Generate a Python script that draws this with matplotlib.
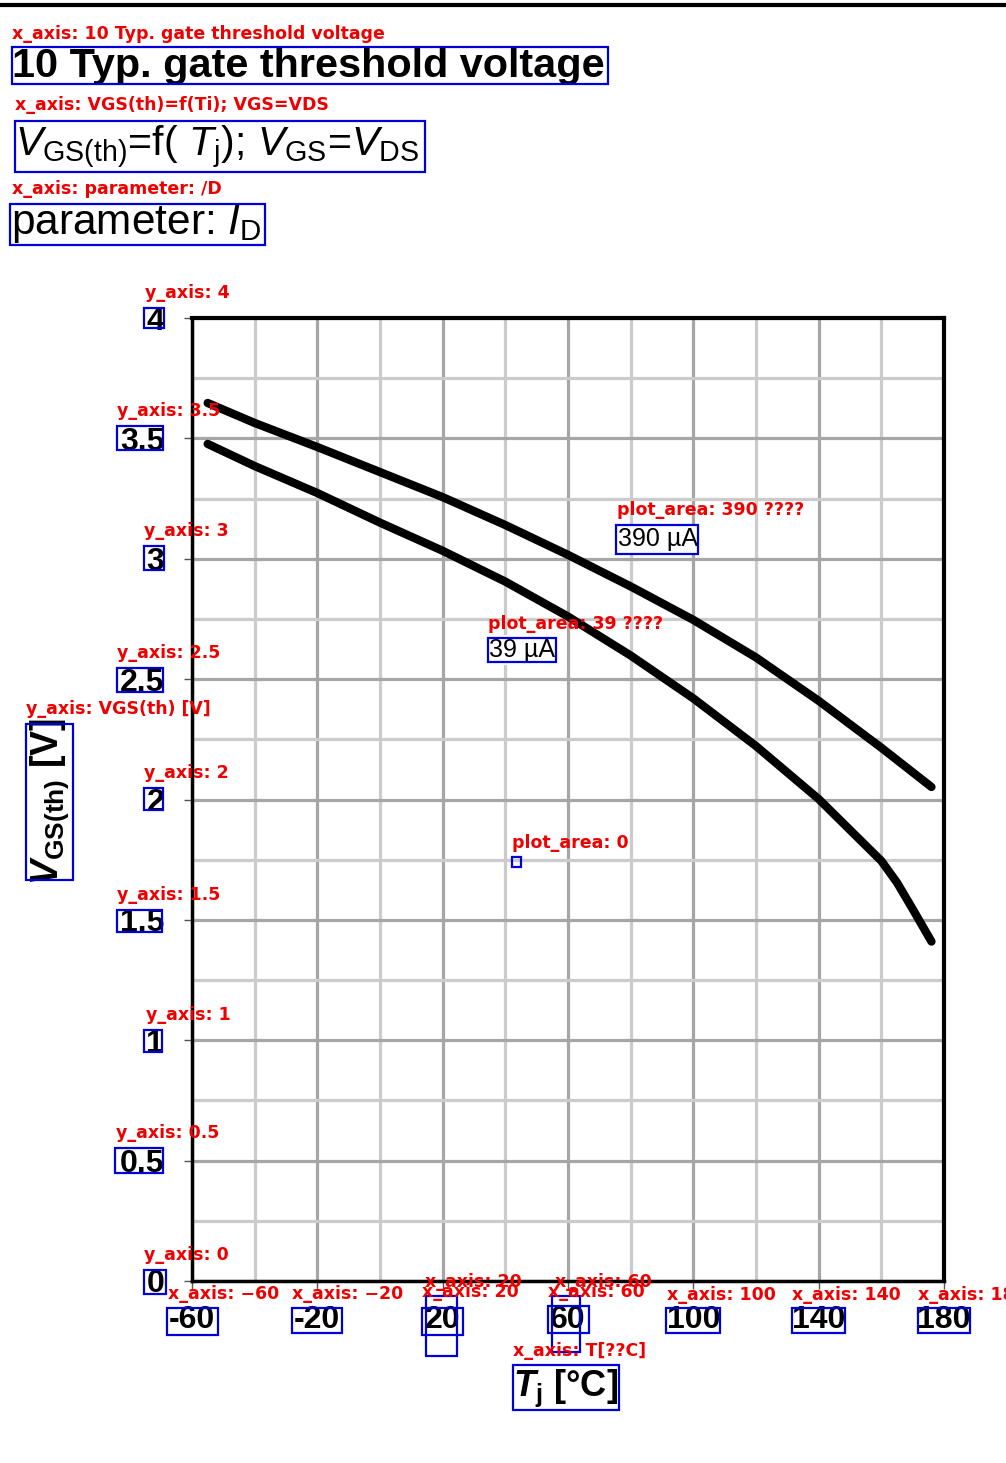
import matplotlib
matplotlib.use("Agg")
import matplotlib.pyplot as plt
from matplotlib.patches import Rectangle
from matplotlib.lines import Line2D

# ---------------- data ----------------
t_390 = [-55, -40, -20, 0, 20, 40, 60, 80, 100, 120, 140, 160, 176]
v_390 = [3.647, 3.564, 3.464, 3.36, 3.256, 3.14, 3.016, 2.885, 2.746, 2.590, 2.410, 2.215, 2.052]
t_39 = [-55, -40, -20, 0, 20, 40, 60, 80, 100, 120, 140, 160, 165, 170, 176]
v_39 = [3.477, 3.385, 3.273, 3.150, 3.033, 2.905, 2.760, 2.598, 2.420, 2.222, 2.002, 1.745, 1.655, 1.545, 1.41]
series_labels = ["390 µA", "39 µA"]
x_major = [-60, -20, 20, 60, 100, 140, 180]
x_minor = [-40, 0, 40, 80, 120, 160]
y_major = [0, 0.5, 1, 1.5, 2, 2.5, 3, 3.5, 4]
y_major_labels = ["0", "0.5", "1", "1.5", "2", "2.5", "3", "3.5", "4"]
y_minor = [0.25, 0.75, 1.25, 1.75, 2.25, 2.75, 3.25, 3.75]
title = "10 Typ. gate threshold voltage"

W, H = 1006, 1463

plt.rcParams["font.family"] = ["Liberation Sans", "DejaVu Sans"]
plt.rcParams["mathtext.fontset"] = "custom"
plt.rcParams["mathtext.rm"] = "Liberation Sans"
plt.rcParams["mathtext.it"] = "Liberation Sans:italic"
plt.rcParams["mathtext.bf"] = "Liberation Sans:bold"
try:
    plt.rcParams["mathtext.bfit"] = "Liberation Sans:italic:bold"
    BFIT = r"\mathbfit"
except KeyError:
    BFIT = r"\mathit"

fig = plt.figure(figsize=(W / 100, H / 100), dpi=100)
fig.patch.set_facecolor("white")

def fx(px):
    return px / W

def fy(py):
    return 1 - py / H

ax = fig.add_axes([fx(192), fy(1281), fx(944) - fx(192), (1281 - 318) / H])
ax.set_xlim(-60, 180)
ax.set_ylim(0, 4)

# grid
for xv in x_minor:
    ax.axvline(xv, color="#cbcbcb", lw=2.3, zorder=1)
for xv in x_major:
    ax.axvline(xv, color="#a6a6a6", lw=2.3, zorder=1)
for yv in y_minor:
    ax.axhline(yv, color="#cbcbcb", lw=2.3, zorder=1)
for yv in y_major:
    ax.axhline(yv, color="#a6a6a6", lw=2.3, zorder=1)

# curves
ax.plot(t_390, v_390, color="black", lw=6, solid_capstyle="round", solid_joinstyle="round", zorder=3)
ax.plot(t_39, v_39, color="black", lw=6, solid_capstyle="round", solid_joinstyle="round", zorder=3)

ax.text(76, 3.08, series_labels[0], fontsize=18, va="center", ha="left",
        bbox=dict(facecolor="white", edgecolor="none", pad=2), zorder=4)
ax.text(34.8, 2.62, series_labels[1], fontsize=18, va="center", ha="left",
        bbox=dict(facecolor="white", edgecolor="none", pad=2), zorder=4)

ax.set_xticks(x_major)
ax.set_xticklabels([str(v) for v in x_major])
ax.set_yticks(y_major)
ax.set_yticklabels(y_major_labels)
for lab in ax.get_xticklabels() + ax.get_yticklabels():
    lab.set_fontweight("bold")
    lab.set_fontsize(23)
ax.tick_params(axis="both", direction="out", length=6, width=1, color="#555555")
ax.tick_params(axis="x", pad=11)
ax.tick_params(axis="y", pad=14)
for s in ["left", "bottom"]:
    ax.spines[s].set_linewidth(2.5)
for s in ["top", "right"]:
    ax.spines[s].set_linewidth(3)
for s in ax.spines.values():
    s.set_zorder(5)

# top rule
fig.add_artist(Line2D([0, 1], [fy(5), fy(5)], color="black", lw=3, transform=fig.transFigure))

# titles
fig.text(fx(12), fy(66), title, fontsize=29.8, fontweight="bold", va="center", ha="left")
fig.text(fx(15), fy(147), r"$V_{\mathrm{GS(th)}}$=f( $T_{\mathrm{j}}$); $V_{\mathrm{GS}}$=$V_{\mathrm{DS}}$",
         fontsize=29.5, va="center", ha="left")
fig.text(fx(11), fy(224), r"parameter: $I_{\mathrm{D}}$", fontsize=30.5, va="center", ha="left")

fig.text(fx(566), fy(1388), r"$" + BFIT + r"{T}_{\mathbf{j}}$ [°C]", fontsize=26, fontweight="bold",
         va="center", ha="center")
fig.text(fx(50), fy(802), r"$" + BFIT + r"{V}_{\mathbf{GS(th)}}$ [V]", fontsize=27, fontweight="bold",
         va="center", ha="center", rotation=90)

# annotation overlay: (label, label_x, label_baseline_y, box x0, y0, x1, y1)
annots = [
    ("x_axis: 10 Typ. gate threshold voltage", 12, 39, 12, 47, 608, 84),
    ("x_axis: VGS(th)=f(Ti); VGS=VDS", 15, 110, 15, 121, 425, 172),
    ("x_axis: parameter: /D", 12, 194, 10, 204, 265, 245),
    ("y_axis: 4", 145, 298, 144, 308, 164, 328),
    ("y_axis: 3.5", 117, 416, 117, 426, 163, 450),
    ("y_axis: 3", 144, 536, 144, 546, 164, 570),
    ("y_axis: 2.5", 117, 658, 117, 668, 163, 692),
    ("y_axis: VGS(th) [V]", 26, 714, 26, 724, 73, 880),
    ("y_axis: 2", 144, 778, 144, 788, 163, 810),
    ("y_axis: 1.5", 117, 900, 117, 910, 162, 932),
    ("y_axis: 1", 146, 1020, 144, 1030, 162, 1052),
    ("y_axis: 0.5", 116, 1138, 115, 1148, 163, 1173),
    ("y_axis: 0", 144, 1260, 144, 1270, 166, 1294),
    ("x_axis: \u221260", 168, 1299, 167, 1308, 218, 1335),
    ("x_axis: \u221220", 292, 1299, 292, 1308, 342, 1333),
    ("x_axis: 20", 425, 1287, 422, 1308, 463, 1335),
    ("x_axis: 20", 422, 1297, 426, 1296, 457, 1356),
    ("x_axis: 60", 555, 1287, 548, 1306, 589, 1333),
    ("x_axis: 60", 548, 1297, 552, 1296, 580, 1352),
    ("x_axis: 100", 667, 1300, 666, 1308, 720, 1333),
    ("x_axis: 140", 792, 1300, 792, 1308, 845, 1333),
    ("x_axis: 180", 918, 1300, 918, 1308, 970, 1333),
    ("x_axis: T[??C]", 513, 1356, 513, 1365, 619, 1410),
    ("plot_area: 390 ????", 617, 515, 616, 525, 698, 554),
    ("plot_area: 39 ????", 488, 629, 488, 638, 556, 662),
    ("plot_area: 0", 512, 848, 512, 857, 521, 867),
]
for lab, lx, ly, x0, y0, x1, y1 in annots:
    fig.add_artist(Rectangle((fx(x0), fy(y1)), fx(x1) - fx(x0), (y1 - y0) / H, transform=fig.transFigure,
                             fill=False, edgecolor="#0000dd", lw=1.6, zorder=10))
    fig.text(fx(lx), fy(ly), lab, color="#ee0000", fontsize=12.5, fontweight="bold", family="DejaVu Sans",
             va="baseline", ha="left", zorder=11)

fig.savefig("out.png", dpi=100, facecolor="white")
